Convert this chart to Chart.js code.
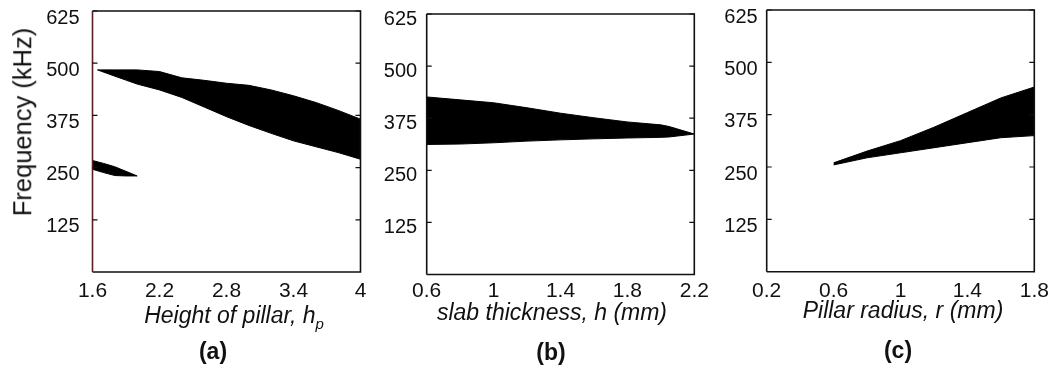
<!DOCTYPE html>
<html>
<head>
<meta charset="utf-8">
<script src="https://cdn.jsdelivr.net/npm/chart.js@4.4.1/dist/chart.umd.min.js"></script>
<style>
  html, body { margin: 0; padding: 0; background: #fff; }
  #wrap { position: relative; width: 1049px; height: 367px; overflow: hidden;
          font-family: "Liberation Sans", Arial, sans-serif; color: #111; }
  canvas { position: absolute; left: 0; top: 0; }
  .t { position: absolute; white-space: nowrap; transform: translate(-50%, -50%); line-height: 1; }
  .xt { font-style: italic; font-size: 23px; }
  .cap { font-weight: bold; font-size: 23px; }
  .yt { font-size: 25.5px; transform: translate(-50%, -50%) rotate(-90deg); }
  .sub { font-size: 15px; position: relative; top: 6px; }
</style>
</head>
<body>
<div id="wrap">
  <canvas id="ca" width="1049" height="367"></canvas>
  <canvas id="cb" width="1049" height="367"></canvas>
  <canvas id="cc" width="1049" height="367"></canvas>
  <div class="t yt" style="left:23px; top:122px;">Frequency (kHz)</div>
  <div class="t xt" style="left:234px; top:315px;">Height of pillar, h<span class="sub">p</span></div>
  <div class="t xt" style="left:552px; top:312px;">slab thickness, h (mm)</div>
  <div class="t xt" style="left:903px; top:310px;">Pillar radius, r (mm)</div>
  <div class="t cap" style="left:213px; top:351px;">(a)</div>
  <div class="t cap" style="left:551px; top:352px;">(b)</div>
  <div class="t cap" style="left:898px; top:350px;">(c)</div>
</div>
<script>
// ---------- data ----------
const yTicks = [125, 250, 375, 500, 625];

// (a) Height of pillar, hp
const aXTicks = [1.6, 2.2, 2.8, 3.4, 4];
const aBand1X     = [1.645, 1.8, 2.0, 2.2, 2.4, 2.6, 2.8, 3.0, 3.2, 3.4, 3.6, 3.8, 4.0];
const aBand1Upper = [484,   484, 484, 480, 465, 459, 452, 447, 436, 422, 406, 387, 366];
const aBand1Lower = [484,   469, 450, 436, 418, 395, 372, 351, 332, 314, 300, 286, 270];
const aBand2X     = [1.6, 1.7, 1.8, 1.9, 2.0];
const aBand2Upper = [267, 260, 252, 241, 230];
const aBand2Lower = [246, 238, 231, 230, 230];

// (b) slab thickness, h (mm)
const bXTicks = [0.6, 1, 1.4, 1.8, 2.2];
const bBandX     = [0.6, 0.8, 1.0, 1.2, 1.4, 1.6,   1.8,   2.0, 2.05, 2.2];
const bBandUpper = [426, 419, 412, 400, 387, 376,   366,   359, 355,  337];
const bBandLower = [312, 313, 316, 320, 323, 325.5, 327.5, 329, 330,  337];

// (c) Pillar radius, r (mm)
const cXTicks = [0.2, 0.6, 1, 1.4, 1.8];
const cBandX     = [0.6, 0.8, 1.0, 1.2, 1.4, 1.6, 1.8];
const cBandUpper = [260, 288, 313, 345, 380, 415, 441];
const cBandLower = [255, 272, 284, 296, 308, 320, 325];

// ---------- helpers ----------
const FONT = "'Liberation Sans', Arial, sans-serif";
function pts(xs, ys) { return xs.map((x, i) => ({ x: x, y: ys[i] })); }
function bandSets(xs, lo, hi) {
  return [
    { data: pts(xs, lo), borderColor: '#000', borderWidth: 1, pointRadius: 0, fill: false, tension: 0 },
    { data: pts(xs, hi), borderColor: '#000', borderWidth: 1, pointRadius: 0, fill: '-1',
      backgroundColor: '#000', tension: 0 }
  ];
}

const frame = {
  id: 'frame',
  afterDraw(chart, args, opts) {
    const { ctx, chartArea: { left, right, top, bottom }, scales: { y } } = chart;
    ctx.save();
    ctx.lineWidth = 1.6;
    ctx.strokeStyle = '#111';
    ctx.beginPath();
    ctx.moveTo(left, top); ctx.lineTo(right, top); ctx.lineTo(right, bottom); ctx.lineTo(left, bottom);
    ctx.stroke();
    ctx.strokeStyle = opts.leftColor || '#111';
    ctx.beginPath(); ctx.moveTo(left, top); ctx.lineTo(left, bottom); ctx.stroke();
    ctx.strokeStyle = '#111';
    ctx.lineWidth = 1.2;
    y.ticks.forEach(t => {
      const py = y.getPixelForValue(t.value);
      ctx.beginPath();
      ctx.moveTo(left, py); ctx.lineTo(left + 5, py);
      ctx.moveTo(right, py); ctx.lineTo(right - 5, py);
      ctx.stroke();
    });
    ctx.restore();
  }
};

function makeChart(id, cfg) {
  const W = 1049, H = 367, YW = 60, XH = 40;
  const A = cfg.area;
  return new Chart(document.getElementById(id), {
    type: 'line',
    data: { datasets: cfg.datasets },
    options: {
      responsive: false, animation: false, events: [],
      layout: { padding: { left: A.left - YW, right: W - A.right, top: A.top, bottom: H - A.bottom - XH } },
      plugins: { legend: { display: false }, tooltip: { enabled: false }, frame: { leftColor: cfg.leftColor } },
      scales: {
        x: {
          type: 'linear', min: cfg.xmin, max: cfg.xmax,
          grid: { display: false, drawTicks: false }, border: { display: false },
          ticks: { color: '#111', font: { family: FONT, size: 21 }, padding: cfg.xPad,
                   maxRotation: 0, autoSkip: false, callback: v => String(v) },
          afterBuildTicks: s => { s.ticks = cfg.xTicks.map(v => ({ value: v })); },
          afterFit: s => { s.height = XH; s.paddingLeft = 0; s.paddingRight = 0; }
        },
        y: {
          type: 'linear', min: 0, max: 625,
          grid: { display: false, drawTicks: false }, border: { display: false },
          ticks: { color: '#111', font: { family: FONT, size: 20 }, padding: cfg.yPad,
                   labelOffset: cfg.yOff, autoSkip: false, callback: v => String(v) },
          afterBuildTicks: s => { s.ticks = yTicks.map(v => ({ value: v })); },
          afterFit: s => { s.width = YW; s.paddingTop = 0; s.paddingBottom = 0; }
        }
      }
    },
    plugins: [frame]
  });
}

makeChart('ca', {
  datasets: bandSets(aBand1X, aBand1Lower, aBand1Upper).concat(bandSets(aBand2X, aBand2Lower, aBand2Upper)),
  xmin: 1.6, xmax: 4, xTicks: aXTicks,
  area: { left: 92.5, right: 360.5, top: 11, bottom: 272 },
  yPad: 13, yOff: 7, xPad: 7, leftColor: '#5a1f1f'
});
makeChart('cb', {
  datasets: bandSets(bBandX, bBandLower, bBandUpper),
  xmin: 0.6, xmax: 2.2, xTicks: bXTicks,
  area: { left: 426.7, right: 694.3, top: 14, bottom: 274.5 },
  yPad: 9.5, yOff: 5, xPad: 4.5
});
makeChart('cc', {
  datasets: bandSets(cBandX, cBandLower, cBandUpper),
  xmin: 0.2, xmax: 1.8, xTicks: cXTicks,
  area: { left: 766.7, right: 1034.3, top: 10, bottom: 271.7 },
  yPad: 9, yOff: 7, xPad: 7
});
</script>
</body>
</html>
